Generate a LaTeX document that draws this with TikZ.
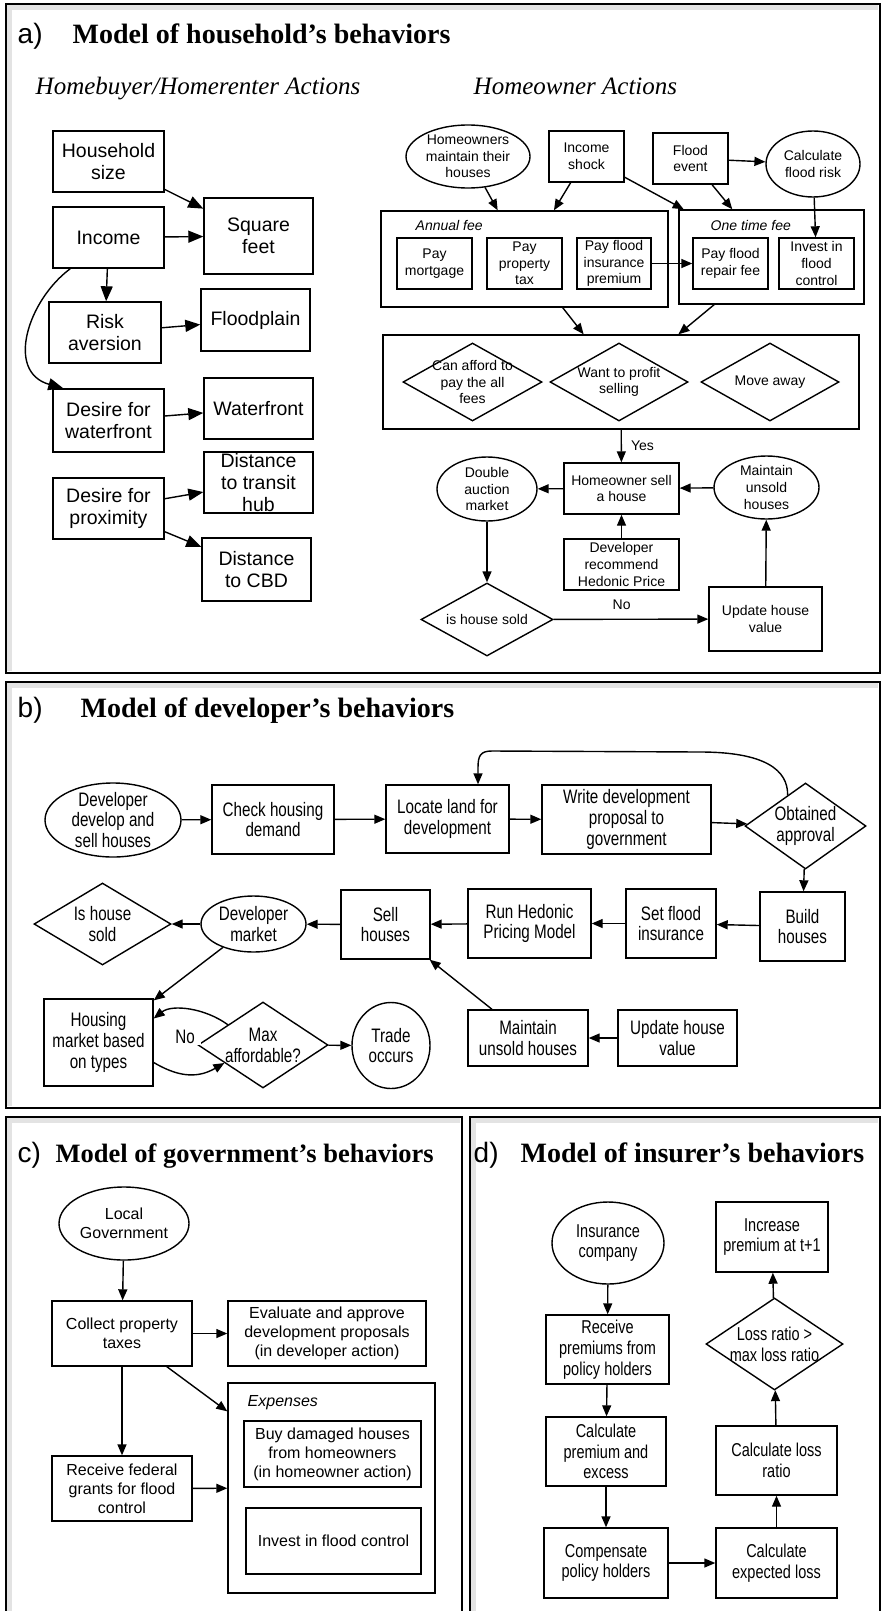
\documentclass[tikz,border=0pt]{standalone}
\usepackage{fontspec}
\setmainfont{Liberation Serif}
\setsansfont{Liberation Sans}
\newfontfamily\narrowsf[FakeStretch=0.78]{Liberation Sans}
\usetikzlibrary{arrows.meta,shapes.geometric}

\begin{document}
\begin{tikzpicture}[x=1pt,y=-1pt,
  >={Triangle[length=11pt,width=9pt]},
  line width=1.4pt,
  box/.style={draw,rectangle,align=center,inner sep=0pt},
  ell/.style={draw,ellipse,inner sep=0pt},
  dia/.style={draw,diamond,inner sep=0pt},
  sz/.style 2 args={minimum width=#1pt,minimum height=#2pt},
  txt/.style={label={[align=center]center:{#1}}},
  big/.style={-{Triangle[length=15pt,width=12pt]}},
  frame/.style={line width=1.2pt},
  shd/.style={gray!22,line width=5pt},
  ttl/.style={anchor=base west,inner sep=0pt,font=\bfseries\fontsize{28}{30}\selectfont},
  tag/.style={anchor=base west,inner sep=0pt,font=\sffamily\fontsize{28}{30}\selectfont},
  sub/.style={anchor=base west,inner sep=0pt,font=\itshape\fontsize{25}{27}\selectfont},
  fa/.style={font=\sffamily\fontsize{19.5}{22}\selectfont},
  fh/.style={font=\sffamily\fontsize{14}{16.6}\selectfont},
  fb/.style={font=\narrowsf\fontsize{19.5}{20.8}\selectfont},
  fc/.style={font=\sffamily\fontsize{16}{19}\selectfont},
  fd/.style={font=\narrowsf\fontsize{18.6}{20.7}\selectfont},
]
  \useasboundingbox (0,0) rectangle (883,1611);
  % panel frames
  \draw[shd] (9.5,671) |- (878,7.5);
  \draw[shd] (9.5,1106) |- (878,685.5);
  \draw[shd] (9.5,1611) |- (460,1120.5);
  \draw[shd] (473.5,1611) |- (878,1120.5);
  \draw[frame] (6,4) rectangle (880,673);
  \draw[frame] (6,682) rectangle (880,1108);
  \draw[frame] (6,1615) |- (462,1117) -- (462,1615);
  \draw[frame] (470,1615) |- (880,1117) -- (880,1615);

  % a) households
  \node[tag] (taga) at (17,44) {a)};
  \node[ttl] (ttla) at (72,44) {Model of household’s behaviors};
  \node[sub] (subl) at (35,95) {Homebuyer/Homerenter Actions};
  \node[sub] (subr) at (473,94) {Homeowner Actions};

  \begin{scope}[every node/.append style={fa}]
  \node[box,sz={111}{61}] (hhs) at (108.5,161.5) {Household\\size};
  \node[box,sz={109}{76}] (sqf) at (258.5,236) {Square\\feet};
  \node[box,sz={111}{61}] (inc) at (108.5,237.5) {Income};
  \node[box,sz={112}{61}] (risk) at (105,332.5) {Risk\\aversion};
  \node[box,sz={109}{62}] (fpl) at (255.5,320) {Floodplain};
  \node[box,sz={111}{63}] (dwf) at (108.5,420.5) {Desire for\\waterfront};
  \node[box,sz={109}{61}] (wft) at (258.5,408.5) {Waterfront};
  \node[box,sz={109}{61}] (dth) at (258.5,482.5) {Distance\\to transit\\hub};
  \node[box,sz={111}{61}] (dpx) at (108.5,508.5) {Desire for\\proximity};
  \node[box,sz={109}{63}] (cbd) at (256.5,569.5) {Distance\\to CBD};
  \foreach \a/\b in {hhs/sqf,inc/sqf,inc/risk,risk/fpl,dwf/wft,dpx/dth,dpx/cbd}
    \draw[big] (\a) -- (\b);
  \draw[big] ([xshift=18pt]inc.south west) .. controls (28,300) and (5,372) .. ([xshift=11pt]dwf.north west);
  \end{scope}

  \begin{scope}[every node/.append style={fh}]
  \node[ell,sz={124}{63},txt={Homeowners\\maintain their\\houses}] (hmt) at (468,156.5) {};
  \node[box,sz={75}{51}] (ish) at (586.5,156.5) {Income\\shock};
  \node[box,sz={75}{51}] (fev) at (690.5,158.5) {Flood\\event};
  \node[ell,sz={94}{66},txt={Calculate\\flood risk}] (cfr) at (813,164) {};
  \node[box,sz={287}{96}] (ann) at (524.5,259) {};
  \node[anchor=west,inner sep=0pt] (annl) at (415,225) {\itshape Annual fee};
  \node[box,sz={185}{94}] (otf) at (771.5,257) {};
  \node[anchor=west,inner sep=0pt] (otfl) at (710,225) {\itshape One time fee};
  \node[box,sz={75}{51}] (pmo) at (434.5,263.5) {Pay\\mortgage};
  \node[box,sz={75}{51}] (ppt) at (524.5,263.5) {Pay\\property\\tax};
  \node[box,sz={74}{51}] (pfi) at (614,263.5) {Pay flood\\insurance\\premium};
  \node[box,sz={75}{51}] (pfr) at (730.5,263.5) {Pay flood\\repair fee};
  \node[box,sz={75}{51}] (ifc) at (816.5,263.5) {Invest in\\flood\\control};
  \node[box,sz={476}{94}] (dec) at (621,382) {};
  \node[dia,sz={139}{78},txt={Can afford to\\pay the all\\fees}] (afd) at (472.5,382) {};
  \node[dia,sz={138}{78},txt={Want to profit\\selling}] (wps) at (619,382) {};
  \node[dia,sz={138}{78},txt={Move away}] (mva) at (770,382) {};
  \node[box,sz={115}{51}] (hsl) at (621.5,488.5) {Homeowner sell\\a house};
  \node[ell,sz={100}{64},txt={Double\\auction\\market}] (dam) at (487,489) {};
  \node[ell,sz={105}{63},txt={Maintain\\unsold\\houses}] (mun) at (766.5,487.5) {};
  \node[box,sz={115}{51}] (drh) at (621.5,564.5) {Developer\\recommend\\Hedonic Price};
  \node[dia,sz={132}{73},txt={is house sold}] (ihs) at (487,619.5) {};
  \node[box,sz={113}{64}] (uhv) at (765.5,619) {Update house\\value};
  \foreach \a/\b in {hmt/ann,ish/ann,ish/otf,fev/otf,fev/cfr,cfr/ifc,pfi/pfr,ann/dec,otf/dec,hsl/dam,mun/hsl,drh/hsl,dam/ihs,uhv/mun}
    \draw[->] (\a) -- (\b);
  \draw[->] (dec) -- node[right=9pt,inner sep=0pt] (yes) {Yes} (hsl);
  \draw[->] (ihs) -- node[pos=0.44,above=9pt,inner sep=0pt] (no) {No} (uhv);
  \end{scope}

  % b) developers
  \node[tag] (tagb) at (17,717) {b)};
  \node[ttl] (ttlb) at (80,717) {Model of developer’s behaviors};
  \begin{scope}[every node/.append style={fb}]
  \node[ell,sz={136}{74},txt={Developer\\develop and\\sell houses}] (dds) at (113,820) {};
  \node[box,sz={122}{69}] (chd) at (273,819.5) {Check housing\\demand};
  \node[box,sz={123}{68}] (lld) at (447.5,819) {Locate land for\\development};
  \node[box,sz={169}{69}] (wdp) at (626.5,819.5) {Write development\\proposal to\\government};
  \node[dia,sz={121}{86},txt={Obtained\\approval}] (obt) at (805.5,826) {};
  \node[box,sz={85}{69}] (bld) at (802.5,926.5) {Build\\houses};
  \node[box,sz={90}{69}] (sfi) at (671,923.5) {Set flood\\insurance};
  \node[box,sz={123}{69}] (rhp) at (529.5,923.5) {Run Hedonic\\Pricing Model};
  \node[box,sz={89}{69}] (sel) at (385.5,924.5) {Sell\\houses};
  \node[ell,sz={105}{56},txt={Developer\\market}] (dvm) at (253.5,924) {};
  \node[dia,sz={137}{82},txt={Is house\\sold}] (ihb) at (102.5,924) {};
  \node[box,sz={109}{87}] (hmk) at (98.5,1042.5) {Housing\\market based\\on types};
  \node[dia,sz={130}{86},txt={Max\\affordable?}] (max) at (263,1045) {};
  \node[ell,sz={78}{86},txt={Trade\\occurs}] (tro) at (391,1045.5) {};
  \node[box,sz={120}{56}] (mus) at (528,1038) {Maintain\\unsold houses};
  \node[box,sz={119}{56}] (uhb) at (677.5,1038) {Update house\\value};
  \foreach \a/\b in {dds/chd,chd/lld,lld/wdp,wdp/obt,obt/bld,bld/sfi,sfi/rhp,rhp/sel,sel/dvm,dvm/ihb,dvm/hmk,mus/sel,uhb/mus,max/tro}
    \draw[->] (\a) -- (\b);
  \draw[->] (obt.120) .. controls (788,770) and (765,752) .. (700,752) -- (492,751) .. controls (480,751) and (478,756) .. (478,768) -- ([xshift=30.5pt]lld.north);
  \draw[->] (max.150) .. controls (205,1008) and (172,1004) .. ([yshift=24pt]hmk.east);
  \draw[->] ([yshift=-20pt]hmk.east) .. controls (175,1075) and (195,1080) .. (max.205);
  \node[fill=white,inner xsep=6pt,inner ysep=1pt] (nob) at (185,1037) {No};
  \end{scope}

  % c) government
  \node[tag] (tagc) at (17,1162) {c)};
  \node[ttl,font=\bfseries\fontsize{26.5}{28}\selectfont] (ttlc) at (55,1162) {Model of government’s behaviors};
  \begin{scope}[every node/.append style={fc}]
  \node[ell,sz={130}{73},txt={Local\\Government}] (lgv) at (124,1223.5) {};
  \node[box,sz={140}{65}] (cpt) at (122,1333.5) {Collect property\\taxes};
  \node[box,sz={198}{65}] (eap) at (327,1333.5) {Evaluate and approve\\development proposals\\(in developer action)};
  \node[box,sz={207}{210}] (exs) at (331.5,1488) {};
  \node[anchor=west,inner sep=0pt] (exsl) at (247,1403) {\itshape Expenses};
  \node[box,sz={177}{66}] (bdh) at (332.5,1454) {Buy damaged houses\\from homeowners\\(in homeowner action)};
  \node[box,sz={175}{66}] (ifl) at (333.5,1541) {Invest in flood control};
  \node[box,sz={140}{65}] (rfg) at (122,1488.5) {Receive federal\\grants for flood\\control};
  \foreach \a/\b in {lgv/cpt,cpt/eap,cpt/exs,cpt/rfg,rfg/exs}
    \draw[->] (\a) -- (\b);
  \end{scope}

  % d) insurers
  \node[tag] (tagd) at (473,1162) {d)};
  \node[ttl] (ttld) at (520,1162) {Model of insurer’s behaviors};
  \begin{scope}[every node/.append style={fd}]
  \node[ell,sz={112}{82},txt={Insurance\\company}] (ico) at (608,1243) {};
  \node[box,sz={123}{69}] (rpp) at (607.5,1349.5) {Receive\\premiums from\\policy holders};
  \node[box,sz={120}{69}] (cpe) at (606,1451.5) {Calculate\\premium and\\excess};
  \node[box,sz={124}{70}] (cph) at (606,1563) {Compensate\\policy holders};
  \node[box,sz={121}{70}] (cel) at (776.5,1563) {Calculate\\expected loss};
  \node[box,sz={121}{69}] (clr) at (776.5,1460.5) {Calculate loss\\ratio};
  \node[dia,sz={137}{92},txt={Loss ratio >\\max loss ratio}] (lrd) at (774.5,1344) {};
  \node[box,sz={112}{70}] (ipt) at (772,1237) {Increase\\premium at t+1};
  \foreach \a/\b in {ico/rpp,rpp/cpe,cpe/cph,cph/cel,cel/clr,clr/lrd,lrd/ipt}
    \draw[->] (\a) -- (\b);
  \end{scope}
\end{tikzpicture}
\end{document}
